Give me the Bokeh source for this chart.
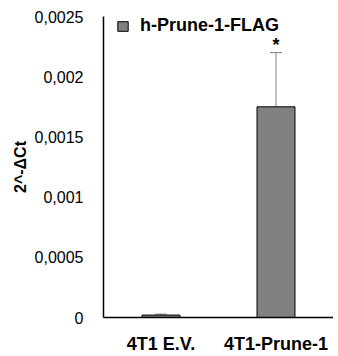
from bokeh.plotting import figure
from bokeh.models import ColumnDataSource, FixedTicker, Whisker, TeeHead, Legend, LegendItem, Range1d, FactorRange
from bokeh.core.properties import value
from bokeh.embed import file_html
from bokeh.resources import INLINE

categories = ["4T1 E.V.", "4T1-Prune-1"]
values = [0.00002, 0.00175]
errors = [0.000008, 0.00045]
marks = ["", "*"]
series_name = "h-Prune-1-FLAG"
y_ticks = [0, 0.0005, 0.001, 0.0015, 0.002, 0.0025]
y_tick_labels = ["0", "0,0005", "0,001", "0,0015", "0,002", "0,0025"]
y_label = "2^-\u0394Ct"

src = ColumnDataSource(dict(
    cat=categories, val=values,
    upper=[v + e for v, e in zip(values, errors)],
    lower=[v - e for v, e in zip(values, errors)],
    mark=marks,
))

p = figure(x_range=FactorRange(*categories, range_padding=0), y_range=Range1d(0, 0.0025),
           frame_width=230, frame_height=301, output_backend="svg", toolbar_location=None,
           min_border_left=0, min_border_top=16, min_border_right=0, min_border_bottom=0,
           margin=(0, 0, 0, 8))
p.outline_line_color = None
p.xgrid.grid_line_color = None
p.ygrid.grid_line_color = None

bars = p.vbar(x="cat", top="val", width=0.33, source=src, fill_color="#808080",
              line_color="black", line_width=1)

w = Whisker(base="cat", upper="upper", lower="lower", source=src, line_color="#808080",
            line_width=1,
            upper_head=TeeHead(size=12, line_color="#808080", line_width=1),
            lower_head=TeeHead(size=12, line_color="#808080", line_width=1))
p.add_layout(w)

p.text(x="cat", y="upper", text="mark", source=src, text_align="center", text_baseline="bottom",
       text_font=value("Liberation Sans"), text_font_style="bold", text_font_size="18px",
       text_color="black", y_offset=2)

p.yaxis.ticker = FixedTicker(ticks=y_ticks)
p.yaxis.major_label_overrides = {t: l for t, l in zip(y_ticks, y_tick_labels)}
p.yaxis.major_tick_line_color = None
p.yaxis.minor_tick_line_color = None
p.yaxis.major_label_standoff = 14
p.yaxis.major_label_text_font = "Liberation Sans"
p.yaxis.major_label_text_font_size = "16px"
p.yaxis.major_label_text_color = "black"
p.yaxis.axis_line_color = "black"
p.yaxis.axis_line_width = 1.5
p.yaxis.axis_label = y_label
p.yaxis.axis_label_text_font = "Liberation Sans"
p.yaxis.axis_label_text_font_style = "bold"
p.yaxis.axis_label_text_font_size = "16px"
p.yaxis.axis_label_text_color = "black"
p.yaxis.axis_label_standoff = 3

p.xaxis.major_tick_line_color = None
p.xaxis.minor_tick_line_color = None
p.xaxis.axis_line_color = "black"
p.xaxis.axis_line_width = 1.5
p.xaxis.major_label_standoff = 10
p.xaxis.major_label_text_font = "Liberation Sans"
p.xaxis.major_label_text_font_style = "bold"
p.xaxis.major_label_text_font_size = "18px"
p.xaxis.major_label_text_color = "black"

legend = Legend(items=[LegendItem(label=series_name, renderers=[bars])],
                location=(13, 281), padding=0, margin=0, spacing=0,
                glyph_width=13, glyph_height=12, label_standoff=11,
                label_text_font="Liberation Sans", label_text_font_style="bold",
                label_text_font_size="18px", label_text_color="black", label_height=12,
                background_fill_alpha=0, border_line_color=None)
p.add_layout(legend)

open("out.html", "w").write(file_html(p, INLINE))
